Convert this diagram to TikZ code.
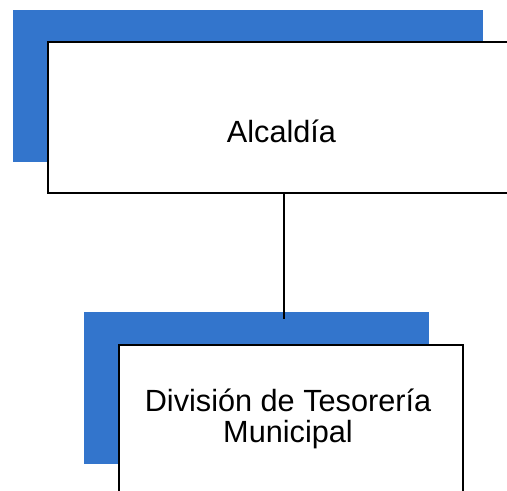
\documentclass[tikz,border=0pt]{standalone}
\usepackage{fontspec}
\setmainfont{Liberation Sans}
\definecolor{orgblue}{RGB}{51,117,204}
\begin{document}
\begin{tikzpicture}[x=0.75pt,y=-0.75pt,
  bluebox/.style={fill=orgblue,draw=none},
  whitebox/.style={fill=white,draw=black,line width=0.8pt},
  boxtext/.style={font=\fontsize{23}{24}\selectfont,inner sep=0pt,align=center},
  link/.style={draw=black,line width=1.6pt}]
\useasboundingbox (0,0) rectangle (507,491);
% top unit
\path[bluebox] (13,10) rectangle (483,162);
\path[whitebox] (48,42) rectangle (515,193);
\coordinate (topS) at (284,193);
\node[boxtext,anchor=base] (alc) at (281.5,143) {Alcaldía};
% bottom unit
\path[bluebox] (84,312) rectangle (429,464);
\coordinate (linkend) at (284,319);
\draw[link] (topS) -- (linkend);
\path[whitebox] (119,345) rectangle (463,500);
\node[boxtext,anchor=base] (div) at (288,443) {División de Tesorería\\Municipal};
\end{tikzpicture}
\end{document}
